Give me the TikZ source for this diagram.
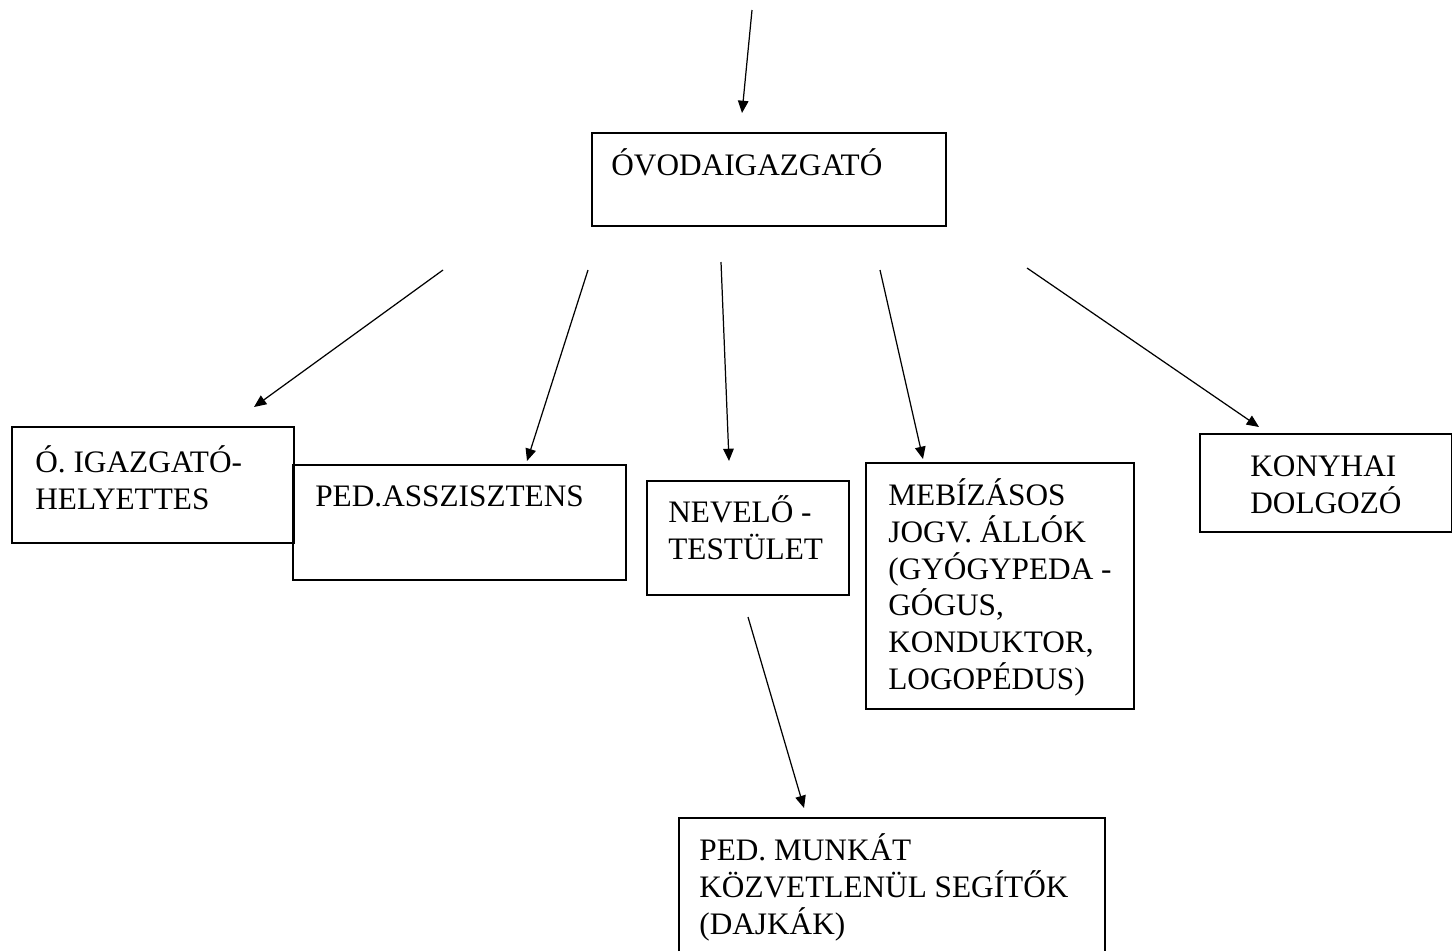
\documentclass[tikz,border=0pt]{standalone}
\usepackage{fontspec}
\setmainfont{Liberation Serif}
\usetikzlibrary{arrows.meta}
\newcommand\tstr{\rule{0pt}{18pt}}
\begin{document}
\begin{tikzpicture}[x=0.02cm,y=-0.02cm,
  box/.style={draw,line width=0.8pt},
  txt/.style={anchor=north west,inner sep=0pt,align=left,font=\fontsize{17.8}{21}\selectfont},
  arr/.style={line width=0.7pt,-{Triangle[length=7pt,width=6pt]}}]
\useasboundingbox (0,0) rectangle (1452,951);
% boxes
\draw[box] (592,133) rectangle (946,226);
\draw[box] (12,427) rectangle (294,543);
\draw[box] (293,465) rectangle (626,580);
\draw[box] (647,481) rectangle (849,595);
\draw[box] (866,463) rectangle (1134,709);
\draw[box] (1200,434) rectangle (1452,532);
\draw[box] (679,951) -- (679,818) -- (1105,818) -- (1105,951);
% texts (north = baseline - 18pt = baseline - 31.75px)
\node[txt] (t0) at (611,175-31.75) {\tstr ÓVODAIGAZGATÓ};
\node[txt] (t1) at (35,472-31.75) {\tstr Ó. IGAZGATÓ-\\HELYETTES};
\node[txt] (t2) at (315,506-31.75) {\tstr PED.ASSZISZTENS};
\node[txt] (t3) at (668,522-31.75) {\tstr NEVELŐ -\\TESTÜLET};
\node[txt] (t4) at (888,505-31.75) {\tstr MEBÍZÁSOS\\JOGV. ÁLLÓK\\(GYÓGYPEDA -\\GÓGUS,\\KONDUKTOR,\\LOGOPÉDUS)};
\node[txt] (t5) at (1250,476-31.75) {\tstr KONYHAI\\DOLGOZÓ};
\node[txt] (t6) at (699,860-31.75) {\tstr PED. MUNKÁT\\KÖZVETLENÜL SEGÍTŐK\\(DAJKÁK)};
% arrow ends
\coordinate (a0) at (752,10);   \coordinate (b0) at (742,113);
\coordinate (a1) at (443,270);  \coordinate (b1) at (254,407);
\coordinate (a2) at (588,270);  \coordinate (b2) at (527,461);
\coordinate (a3) at (721,262);  \coordinate (b3) at (729,461);
\coordinate (a4) at (880,270);  \coordinate (b4) at (923,459);
\coordinate (a5) at (1027,268); \coordinate (b5) at (1259,427);
\coordinate (a6) at (748,617);  \coordinate (b6) at (804,808);
\foreach \i in {0,...,6} \draw[arr] (a\i) -- (b\i);
\end{tikzpicture}
\end{document}
